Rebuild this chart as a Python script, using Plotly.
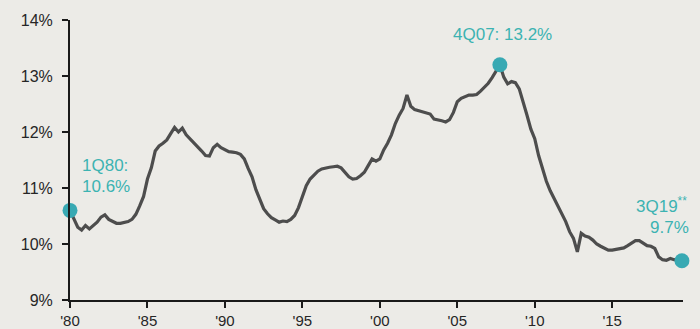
import plotly.graph_objects as go

# Quarterly series, 1Q80 through 3Q19 (percent)
start_year = 1980
values = [
    10.60, 10.45, 10.30, 10.25,   # 1980
    10.33, 10.27, 10.33, 10.39,   # 1981
    10.48, 10.52, 10.44, 10.40,   # 1982
    10.37, 10.37, 10.38, 10.40,   # 1983
    10.44, 10.53, 10.68, 10.85,   # 1984
    11.16, 11.36, 11.66, 11.75,   # 1985
    11.80, 11.86, 11.97, 12.08,   # 1986
    12.00, 12.07, 11.95, 11.88,   # 1987
    11.82, 11.75, 11.66, 11.58,   # 1988
    11.57, 11.72, 11.78, 11.72,   # 1989
    11.68, 11.65, 11.64, 11.63,   # 1990
    11.60, 11.52, 11.35, 11.20,   # 1991
    10.97, 10.78, 10.63, 10.54,   # 1992
    10.47, 10.43, 10.39, 10.41,   # 1993
    10.40, 10.44, 10.51, 10.65,   # 1994
    10.84, 11.04, 11.16, 11.24,   # 1995
    11.30, 11.34, 11.36, 11.37,   # 1996
    11.38, 11.39, 11.36, 11.29,   # 1997
    11.20, 11.16, 11.17, 11.22,   # 1998
    11.28, 11.40, 11.52, 11.48,   # 1999
    11.52, 11.68, 11.80, 11.95,   # 2000
    12.15, 12.30, 12.42, 12.66,   # 2001
    12.46, 12.40, 12.38, 12.36,   # 2002
    12.35, 12.32, 12.23, 12.22,   # 2003
    12.20, 12.18, 12.22, 12.35,   # 2004
    12.54, 12.60, 12.63, 12.66,   # 2005
    12.66, 12.67, 12.73, 12.80,   # 2006
    12.87, 12.97, 13.08, 13.20,   # 2007
    12.98, 12.86, 12.90, 12.88,   # 2008
    12.77, 12.55, 12.30, 12.05,   # 2009
    11.88, 11.58, 11.35, 11.12,   # 2010
    10.95, 10.82, 10.68, 10.56,   # 2011
    10.40, 10.22, 10.10, 9.86,    # 2012
    10.19, 10.14, 10.12, 10.07,   # 2013
    10.00, 9.96, 9.93, 9.89,      # 2014
    9.89, 9.90, 9.92, 9.93,       # 2015
    9.97, 10.01, 10.06, 10.06,    # 2016
    10.01, 9.97, 9.96, 9.92,      # 2017
    9.77, 9.72, 9.71, 9.74,       # 2018
    9.72, 9.71, 9.70,             # 2019 (Q1-Q3)
]
x_years = [start_year + i / 4 for i in range(len(values))]

# Highlighted quarters: label, index into the series
highlights = [
    ("1Q80", 0),
    ("4Q07", 111),
    ("3Q19", 158),
]

tick_years = [1980, 1985, 1990, 1995, 2000, 2005, 2010, 2015]
tick_labels = ["'80", "'85", "'90", "'95", "'00", "'05", "'10", "'15"]
y_ticks = [9, 10, 11, 12, 13, 14]
y_labels = ["9%", "10%", "11%", "12%", "13%", "14%"]

line_color = "#4d4d4d"
teal = "#38a9b3"
label_color = "#3cb3b2"
bg = "#ecebe7"
sans = "Liberation Sans, Arial, sans-serif"

fig = go.Figure()
fig.add_trace(go.Scatter(
    x=x_years, y=values, mode="lines",
    line=dict(color=line_color, width=3.2),
    hoverinfo="skip", showlegend=False,
))
fig.add_trace(go.Scatter(
    x=[x_years[i] for _, i in highlights],
    y=[values[i] for _, i in highlights],
    mode="markers",
    marker=dict(color=teal, size=15),
    cliponaxis=False, showlegend=False,
))

font = dict(family=sans, size=17, color=label_color)


def label(idx, text, xanchor, xshift, yshift):
    fig.add_annotation(
        x=x_years[idx], y=values[idx], text=text,
        showarrow=False, xanchor=xanchor, yanchor="middle",
        xshift=xshift, yshift=yshift, font=font,
    )


i0, i1, i2 = (h[1] for h in highlights)
label(i0, f"{highlights[0][0]}:", "left", 10, 45)
label(i0, f"{values[i0]:.1f}%", "left", 10, 24)
label(i1, f"{highlights[1][0]}: {values[i1]:.1f}%", "center", 3, 30)
label(i2, f"{highlights[2][0]}<sup>**</sup>", "center", -20, 56)
label(i2, f"{values[i2]:.1f}%", "right", 9, 33)

y_font = dict(family=sans, size=16, color="#262626")
x_font = dict(family=sans, size=15, color="#262626")
fig.update_xaxes(
    range=[1980, 2019.57],
    tickmode="array", tickvals=tick_years, ticktext=tick_labels,
    showline=True, linecolor="#1a1a1a", linewidth=2,
    ticks="outside", ticklen=6, tickwidth=2, tickcolor="#1a1a1a",
    ticklabelstandoff=0,
    showgrid=False, zeroline=False, tickfont=x_font,
)
fig.update_yaxes(
    range=[9, 14],
    tickmode="array", tickvals=y_ticks, ticktext=y_labels,
    showline=True, linecolor="#1a1a1a", linewidth=2,
    ticks="outside", ticklen=6, tickwidth=2, tickcolor="#1a1a1a",
    ticklabelstandoff=6,
    showgrid=False, zeroline=False, tickfont=y_font,
)
fig.update_layout(
    width=700, height=329,
    margin=dict(l=70, r=17, t=20, b=29, autoexpand=False),
    paper_bgcolor=bg, plot_bgcolor=bg,
)

fig.write_html("out.html")
